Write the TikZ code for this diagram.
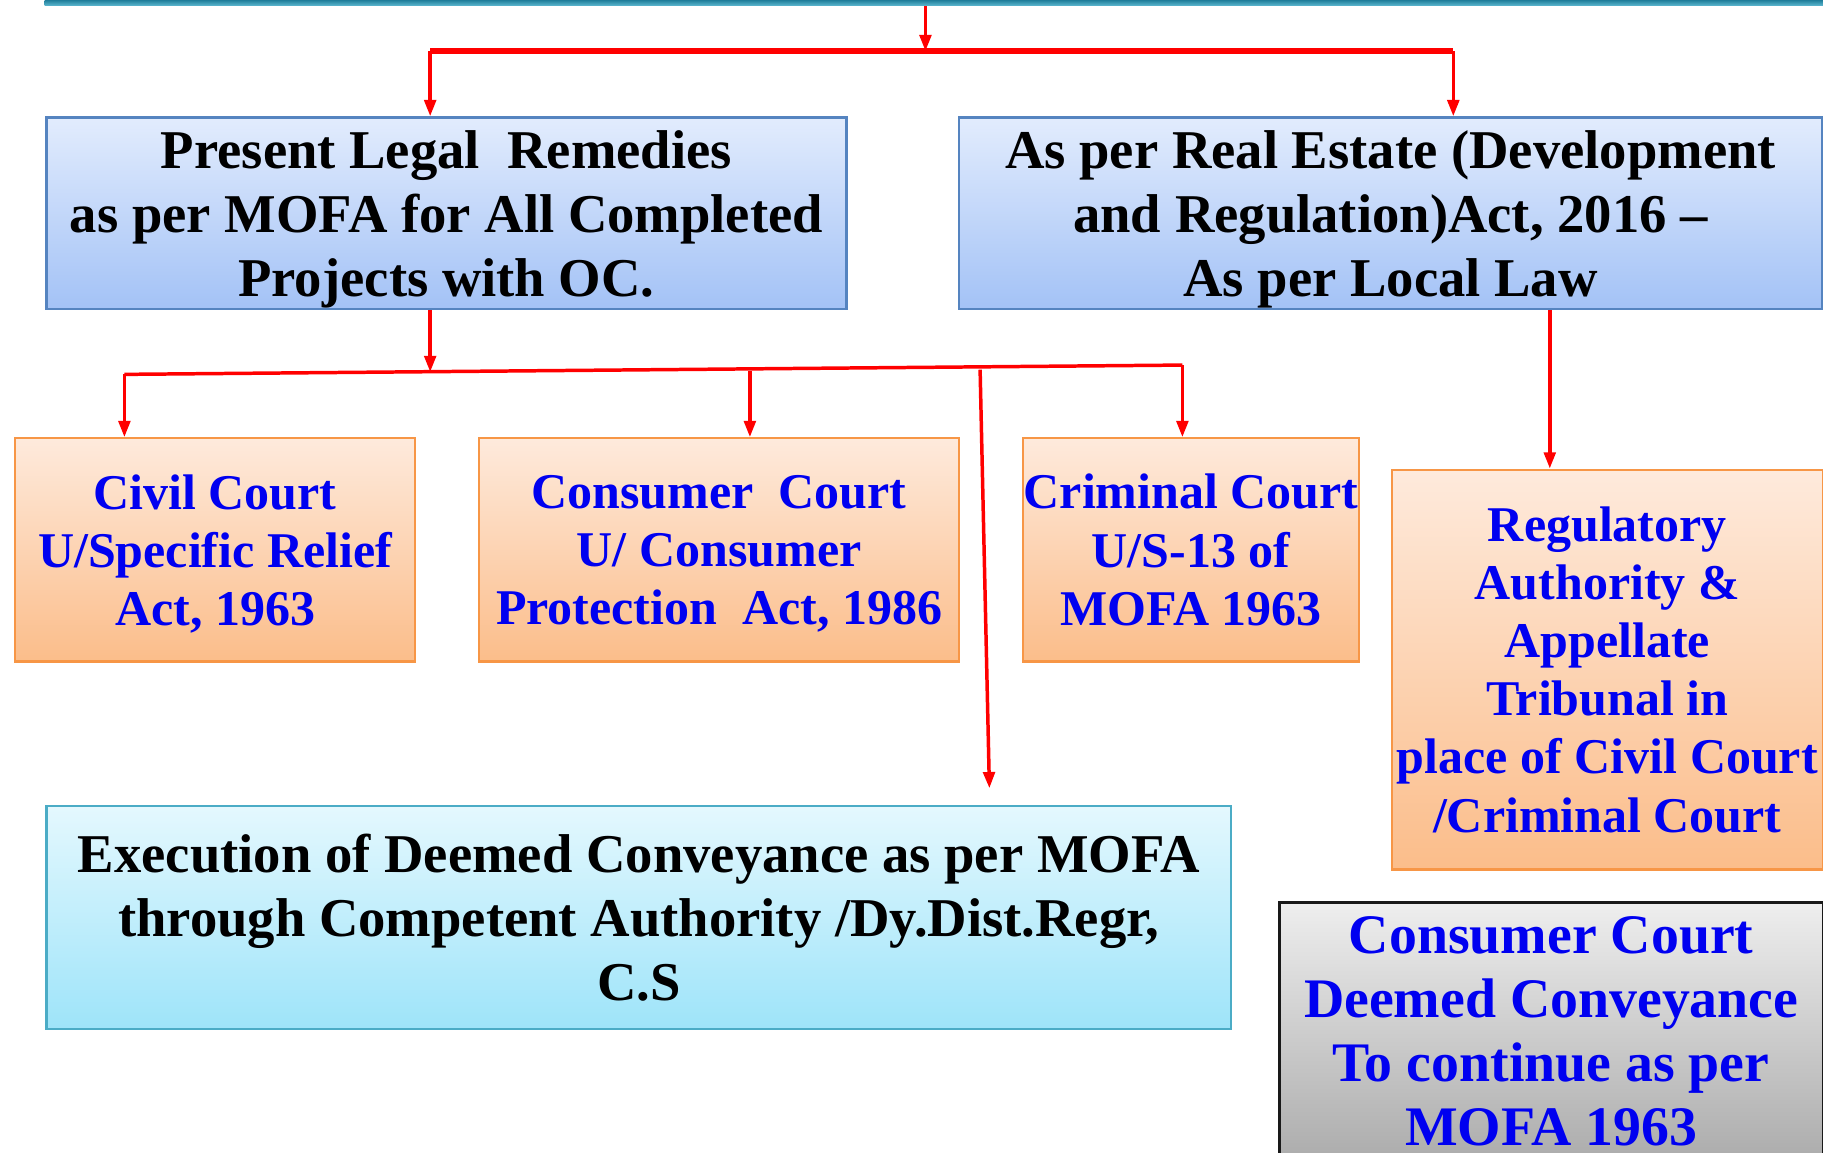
\documentclass[tikz,border=0pt]{standalone}
\usepackage{fontspec}
\setmainfont{Liberation Serif}
\usetikzlibrary{arrows.meta}

\definecolor{bartop}{HTML}{24829E}
\definecolor{barbot}{HTML}{5BB6CE}
\definecolor{bluetop}{HTML}{E2ECFD}
\definecolor{bluebot}{HTML}{A3C2F6}
\definecolor{bluebd}{HTML}{5584C0}
\definecolor{orgtop}{HTML}{FEEADC}
\definecolor{orgbot}{HTML}{FBBD8A}
\definecolor{orgbd}{HTML}{F79646}
\definecolor{cyantop}{HTML}{E4F8FE}
\definecolor{cyanbot}{HTML}{9EE4F9}
\definecolor{cyanbd}{HTML}{4BACC6}
\definecolor{graytop}{HTML}{EEEEEE}
\definecolor{graybot}{HTML}{ACACAC}
\definecolor{txtblue}{HTML}{0000F0}

\tikzset{
  box/.style={draw, rectangle, anchor=north west, inner sep=0pt, align=center},
  headbox/.style={box, draw=bluebd, line width=1pt, top color=bluetop, bottom color=bluebot,
    text depth=0pt, font=\fontsize{23.5}{27.5}\selectfont\bfseries},
  courtbox/.style={box, draw=orgbd, line width=1pt, top color=orgtop, bottom color=orgbot,
    text=txtblue, font=\fontsize{21.5}{25}\selectfont\bfseries},
  execbox/.style={box, draw=cyanbd, line width=1pt, top color=cyantop, bottom color=cyanbot,
    font=\fontsize{23.5}{27.5}\selectfont\bfseries},
  notebox/.style={box, draw=black!90, line width=1.2pt, top color=graytop, bottom color=graybot,
    text=txtblue, font=\fontsize{24}{27.5}\selectfont\bfseries},
  wire/.style={draw=red, line width=1.5pt},
  thickwire/.style={draw=red, line width=2.5pt},
  arr/.style={wire, -{Triangle[length=7pt,width=5pt]}},
}

\begin{document}
\begin{tikzpicture}[x=0.5pt, y=-0.5pt]
\useasboundingbox (0,0) rectangle (1568,991);
\clip (0,0) rectangle (1568,991);

% banner edge at the top
\node[anchor=north west, inner sep=0pt, minimum width=765pt, minimum height=2.2pt,
      top color=bartop, bottom color=barbot] (topbar) at (38,0) {};

% first level
\node[headbox, minimum width=344pt, minimum height=82.5pt] (present) at (39,100)
  {Present Legal~ Remedies\\ as per MOFA for All Completed\\ Projects with OC.};
\node[headbox, minimum width=371pt, minimum height=82.5pt] (rera) at (824,100)
  {As per Real Estate (Development\\ and Regulation)Act, 2016 –\\ As per Local Law};

% second level
\node[courtbox, text depth=0pt, minimum width=172pt, minimum height=96pt] (civil) at (12,376)
  {Civil Court\\ U/Specific Relief\\ Act, 1963};
\node[courtbox, text depth=0pt, minimum width=206.5pt, minimum height=96pt] (consumer) at (411,376)
  {Consumer~ Court\\ U/ Consumer\\ Protection~ Act, 1986};
\node[courtbox, minimum width=144.5pt, minimum height=96pt] (criminal) at (879,376)
  {Criminal Court\\ U/S-13 of\\ MOFA 1963};
\node[courtbox, minimum width=185.5pt, minimum height=172pt] (regul) at (1196,403)
  {Regulatory\\ Authority \&\\ Appellate\\ Tribunal in\\ place of Civil Court\\ /Criminal Court};

% lower boxes
\node[execbox, minimum width=509.5pt, minimum height=96pt] (exec) at (39,692)
  {Execution of Deemed Conveyance as per MOFA\\ through Competent Authority /Dy.Dist.Regr,\\ C.S};
\node[notebox, minimum width=234pt, minimum height=111pt] (note) at (1099,775)
  {Consumer Court\\ Deemed Conveyance\\ To continue as per\\ MOFA 1963};

% junction points of the connectors
\coordinate (split) at (796,44);
\coordinate (jl) at (370,44);
\coordinate (jr) at (1250,44);
\coordinate (b1) at (107,322);
\coordinate (b2) at (645,319);
\coordinate (b3) at (843,318);
\coordinate (b4) at (1017,314);
\coordinate (bmid) at (370,320);
\coordinate (drop) at (851,678);
\coordinate (rx) at (1333,0);

% top split
\draw[arr] (topbar.south -| split) -- (split);
\draw[thickwire] (jl) -- (jr);
\draw[arr] (jl) -- (jl |- present.north);
\draw[arr] (jr) -- (jr |- rera.north);

% remedies bus
\draw[arr] (present.south -| bmid) -- (bmid);
\draw[wire] (b1) -- (b4);
\draw[arr] (b1) -- (b1 |- civil.north);
\draw[arr] (b2) -- (b2 |- consumer.north);
\draw[arr] (b4) -- (b4 |- criminal.north);
\draw[arr] (b3) -- (drop);

% RERA branch
\draw[arr] (rera.south -| rx) -- (regul.north -| rx);
\end{tikzpicture}
\end{document}
